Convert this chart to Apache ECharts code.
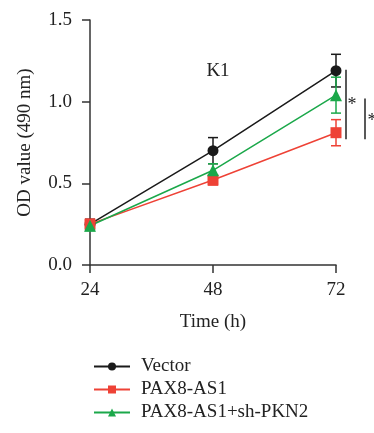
<!DOCTYPE html>
<html><head><meta charset="utf-8">
<script src="https://cdn.jsdelivr.net/npm/echarts@6/dist/echarts.min.js"></script>
<style>html,body{margin:0;padding:0;background:#fff}#c{width:374px;height:433px}</style>
</head><body><div id="c"></div>
<script>
const times = [24, 48, 72];
const vectorVals = [0.25, 0.70, 1.19];
const vectorErr = [0.03, 0.08, 0.10];
const paxVals = [0.25, 0.52, 0.81];
const paxErr = [0.03, 0.03, 0.08];
const shVals = [0.24, 0.58, 1.04];
const shErr = [0.03, 0.04, 0.11];
const names = ['Vector', 'PAX8-AS1', 'PAX8-AS1+sh-PKN2'];
const colors = ['#1a1a1a', '#ee4236', '#1ba84a'];
const symbols = ['circle', 'rect', 'triangle'];
const FONT = 'Liberation Serif';
const FS = 19;

const chart = echarts.init(document.getElementById('c'));
const vals = [vectorVals, paxVals, shVals];
const errs = [vectorErr, paxErr, shErr];

const series = [];
vals.forEach((v, i) => {
  series.push({
    type: 'custom', name: names[i] + ' SEM', silent: true, z: 1,
    data: times.map((t, k) => [t, v[k] - errs[i][k], v[k] + errs[i][k]]),
    renderItem: (params, api) => {
      const lo = api.coord([api.value(0), api.value(1)]);
      const hi = api.coord([api.value(0), api.value(2)]);
      const w = 5;
      const st = { stroke: colors[i], lineWidth: 1.5 };
      return { type: 'group', children: [
        { type: 'line', shape: { x1: lo[0], y1: lo[1], x2: hi[0], y2: hi[1] }, style: st },
        { type: 'line', shape: { x1: lo[0]-w, y1: lo[1], x2: lo[0]+w, y2: lo[1] }, style: st },
        { type: 'line', shape: { x1: hi[0]-w, y1: hi[1], x2: hi[0]+w, y2: hi[1] }, style: st }
      ]};
    }
  });
});
vals.forEach((v, i) => {
  series.push({
    type: 'line', name: names[i], z: 3,
    data: times.map((t, k) => [t, v[k]]),
    symbol: symbols[i], symbolSize: i === 2 ? 12 : 11,
    lineStyle: { color: colors[i], width: 1.5 },
    itemStyle: { color: colors[i] },
    emphasis: { disabled: true }
  });
});

chart.setOption({
  animation: false,
  backgroundColor: '#fff',
  textStyle: { fontFamily: FONT },
  grid: { left: 90, right: 38, top: 20, bottom: 168 },
  title: { text: 'K1', left: 213, top: 57, textAlign: 'center',
    textStyle: { fontFamily: FONT, fontSize: FS, fontWeight: 'normal', color: '#222' } },
  legend: {
    orient: 'vertical', left: 88, top: 352, itemGap: 4,
    itemWidth: 36, itemHeight: 10,
    data: names,
    textStyle: { fontFamily: FONT, fontSize: FS, color: '#222', padding: [0,0,0,6] }
  },
  xAxis: {
    type: 'value', min: 24, max: 72, interval: 24,
    name: 'Time (h)', nameLocation: 'middle', nameGap: 48,
    nameTextStyle: { fontFamily: FONT, fontSize: FS, color: '#222' },
    axisLine: { lineStyle: { color: '#333', width: 1.5 } },
    axisTick: { length: 8, lineStyle: { color: '#333', width: 1.5 } },
    axisLabel: { fontFamily: FONT, fontSize: FS, color: '#222', margin: 16 },
    splitLine: { show: false }
  },
  yAxis: {
    type: 'value', min: 0, max: 1.5, interval: 0.5,
    name: 'OD value (490 nm)', nameLocation: 'middle', nameGap: 55,
    nameTextStyle: { fontFamily: FONT, fontSize: FS, color: '#222' },
    axisLine: { show: true, lineStyle: { color: '#333', width: 1.5 } },
    axisTick: { show: true, length: 8, lineStyle: { color: '#333', width: 1.5 } },
    axisLabel: { fontFamily: FONT, fontSize: FS, color: '#222', margin: 18,
      formatter: v => v.toFixed(1) },
    splitLine: { show: false }
  },
  series: series
});

// significance brackets
const p = (x, y) => chart.convertToPixel({ gridIndex: 0 }, [x, y]);
const a1 = p(72, 1.195), b1 = p(72, 0.77);
const a2 = p(72, 1.02), b2 = p(72, 0.77);
const s1 = p(72, 0.98), s2 = p(72, 0.88);
chart.setOption({
  graphic: [
    { type: 'line', shape: { x1: a1[0]+10, y1: a1[1], x2: b1[0]+10, y2: b1[1] }, style: { stroke: '#222', lineWidth: 1.5 } },
    { type: 'text', x: s1[0]+16, y: s1[1], style: { text: '*', font: '18px "Liberation Serif"', fill: '#222', textAlign: 'center', textVerticalAlign: 'middle' } },
    { type: 'line', shape: { x1: a2[0]+29, y1: a2[1], x2: b2[0]+29, y2: b2[1] }, style: { stroke: '#222', lineWidth: 1.5 } },
    { type: 'text', x: s2[0]+36, y: s2[1], style: { text: '*', font: '18px "Liberation Serif"', fill: '#222', textAlign: 'center', textVerticalAlign: 'middle' } }
  ]
});
</script></body></html>
